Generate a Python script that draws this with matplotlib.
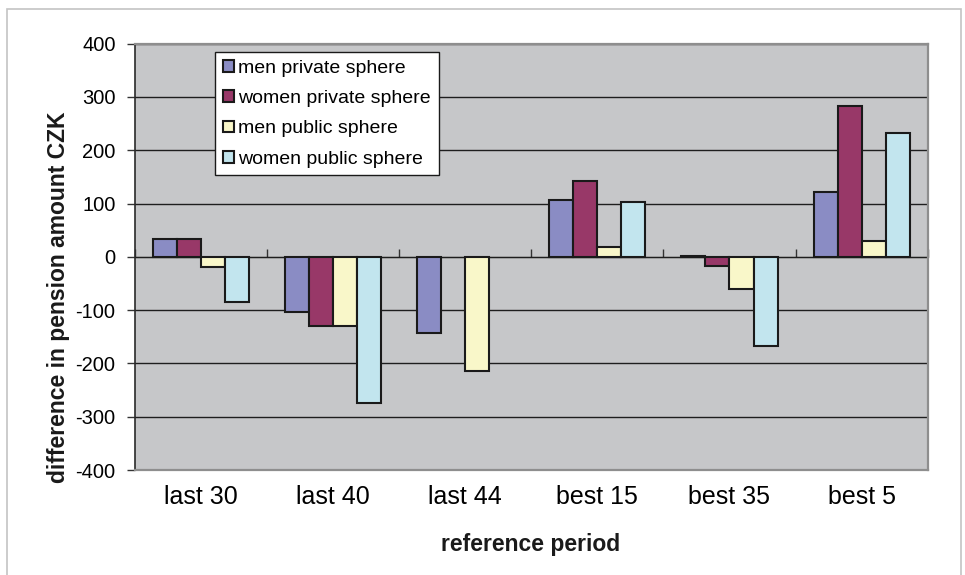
import matplotlib
matplotlib.use("Agg")
import matplotlib.pyplot as plt
from matplotlib.patches import Rectangle
import numpy as np

plt.rcParams["font.family"] = ["Liberation Sans", "DejaVu Sans"]

# pension differences (CZK) per reference period
periods = ["last 30", "last 40", "last 44", "best 15", "best 35", "best 5"]
men_private = [33, -104, -143, 106, 2, 122]
women_private = [34, -129, 0, 142, -18, 284]
men_public = [-19, -130, -215, 19, -60, 29]
women_public = [-84, -274, 0, 103, -167, 232]

series_names = ["men private sphere", "women private sphere",
                "men public sphere", "women public sphere"]
series_colors = ["#8A8CC4", "#983868", "#F9F7C9", "#C2E5EE"]
yticks = [-400, -300, -200, -100, 0, 100, 200, 300, 400]

fig = plt.figure(figsize=(9.65, 5.75), dpi=100)
fig.patch.set_facecolor("white")
fig.patches.append(Rectangle((7 / 965, -0.01), 954 / 965, 1 - 9 / 575 + 0.01,
                             transform=fig.transFigure, fill=False,
                             edgecolor="#C4C4C4", linewidth=1.2))

ax = fig.add_axes([0.1399, 0.1826, 0.8214, 0.7414])
ax.set_facecolor("#C6C7C9")

x = np.arange(len(periods))
width = 1 / 5.5
all_series = [men_private, women_private, men_public, women_public]
for i, (vals, name, col) in enumerate(zip(all_series, series_names, series_colors)):
    heights = np.array(vals, dtype=float)
    ax.bar(x + (i - 1.5) * width, heights, width, label=name, color=col,
           edgecolor=["#1a1a1a" if v != 0 else "none" for v in heights],
           linewidth=1.5, zorder=3)

ax.set_xlim(-0.5, len(periods) - 0.5)
ax.set_ylim(-400, 400)
ax.set_yticks(yticks)
ax.set_yticklabels([str(v) for v in yticks], fontsize=14.5)
ax.yaxis.grid(True, color="#1e1e1e", linewidth=1.0, zorder=1)
ax.set_axisbelow(True)
ax.tick_params(axis="y", direction="out", length=6, width=1, color="#333333", pad=8)

ax.set_xticks(x)
ax.set_xticklabels(periods, fontsize=18)
ax.tick_params(axis="x", length=0, pad=11)

for side in ["top", "right", "bottom"]:
    ax.spines[side].set_color("#8E8E8E")
    ax.spines[side].set_linewidth(1.6)
ax.spines["left"].set_color("#2a2a2a")
ax.spines["left"].set_linewidth(1.2)

# category axis crossing at zero, with boundary tick marks
zero_ax = ax.secondary_xaxis(0.5)
zero_ax.set_xticks(np.arange(-0.5, len(periods), 1.0))
zero_ax.set_xticklabels([])
zero_ax.tick_params(direction="out", length=6, width=1, color="#333333")
zero_ax.spines["bottom"].set_color("#2a2a2a")
zero_ax.spines["bottom"].set_linewidth(1.2)

leg = ax.legend(loc="upper left", bbox_to_anchor=(0.101, 0.98), borderaxespad=0,
                fontsize=14, frameon=True, fancybox=False, framealpha=1.0,
                handlelength=0.55, handleheight=0.55, handletextpad=0.25,
                labelspacing=0.68, borderpad=0.4)
leg.get_frame().set_edgecolor("#1a1a1a")
leg.get_frame().set_linewidth(1.0)
leg.get_frame().set_facecolor("white")
leg.set_zorder(5)
for h in leg.legend_handles:
    h.set_edgecolor("#1a1a1a")
    h.set_linewidth(1.5)

fig.text(59 / 965, 1 - 297 / 575, "difference in pension amount CZK",
         rotation=90, ha="center", va="center", fontsize=16.5, fontweight="bold",
         color="#1a1a1a")
fig.text(531 / 965, 1 - 545 / 575, "reference period", ha="center", va="center",
         fontsize=16.5, fontweight="bold", color="#1a1a1a")

fig.savefig("out.png", dpi=100, facecolor="white")
